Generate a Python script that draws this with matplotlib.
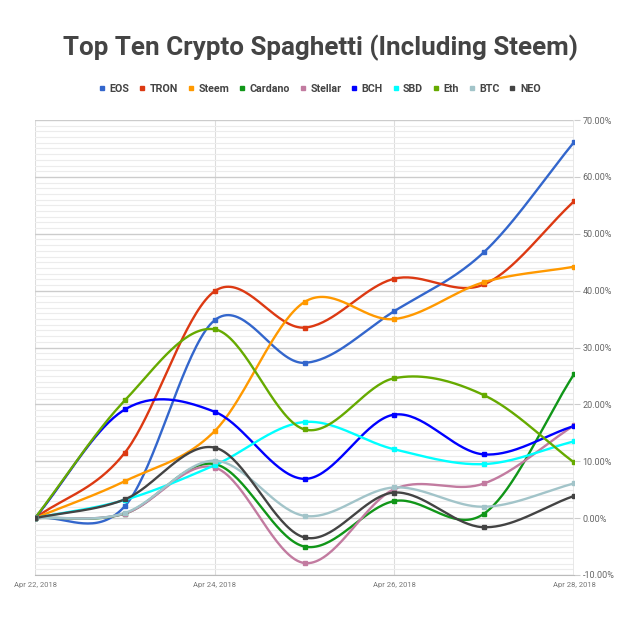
import numpy as np
import matplotlib
matplotlib.use('Agg')
import matplotlib.pyplot as plt
from matplotlib.ticker import MultipleLocator, FuncFormatter

plt.rcParams['font.family'] = ['Roboto', 'DejaVu Sans']

# dias (Apr 22 .. Apr 28, 2018)
days = [0, 1, 2, 3, 4, 5, 6]
day_labels = ['Apr 22, 2018', 'Apr 24, 2018', 'Apr 26, 2018', 'Apr 28, 2018']

# variacao em %
eos = [0, 2.1, 34.8, 27.3, 36.4, 46.8, 66.1]
tron = [0, 11.5, 39.9, 33.5, 42.1, 41.1, 55.7]
steem = [0, 6.5, 15.3, 38.0, 35.0, 41.5, 44.2]
cardano = [0, 0.8, 9.5, -5.0, 3.0, 0.8, 25.3]
stellar = [0, 0.8, 8.9, -7.9, 5.1, 6.1, 16.3]
bch = [0, 19.1, 18.7, 6.9, 18.2, 11.2, 16.2]
sbd = [0, 3.2, 9.3, 16.9, 12.1, 9.5, 13.5]
eth = [0, 20.7, 33.2, 15.6, 24.6, 21.6, 9.8]
btc = [0, 0.9, 10.1, 0.4, 5.4, 2.0, 6.1]
neo = [0, 3.3, 12.4, -3.4, 4.5, -1.6, 3.9]

names = ['EOS', 'TRON', 'Steem', 'Cardano', 'Stellar', 'BCH', 'SBD', 'Eth', 'BTC', 'NEO']
series = [eos, tron, steem, cardano, stellar, bch, sbd, eth, btc, neo]
colors = ['#3366cc', '#dc3912', '#ff9900', '#109618', '#c27ba0',
          '#0000ff', '#00ffff', '#66aa00', '#a2c4c9', '#434343']


def smooth(x, y, n=40):
    # curva suave tipo catmull-rom (hermite)
    x = np.asarray(x, float)
    y = np.asarray(y, float)
    m = np.zeros_like(y)
    m[1:-1] = (y[2:] - y[:-2]) / 2
    m[0] = y[1] - y[0]
    m[-1] = y[-1] - y[-2]
    xs, ys = [], []
    for i in range(len(x) - 1):
        t = np.linspace(0, 1, n)
        h00 = 2*t**3 - 3*t**2 + 1
        h10 = t**3 - 2*t**2 + t
        h01 = -2*t**3 + 3*t**2
        h11 = t**3 - t**2
        xs.append(x[i] + t*(x[i+1] - x[i]))
        ys.append(h00*y[i] + h10*m[i] + h01*y[i+1] + h11*m[i+1])
    return np.concatenate(xs), np.concatenate(ys)


fig = plt.figure(figsize=(6.4, 6.18), dpi=100)
ax = fig.add_axes([35/640, 43/618, 539/640, 455/618])

for s, c, nm in zip(series, colors, names):
    sx, sy = smooth(days, s)
    ax.plot(sx, sy, color=c, lw=1.7, zorder=3, solid_capstyle='round')
    ax.plot(days, s, 's', color=c, ms=3, zorder=4, label=nm)

ax.set_xlim(0, 6)
ax.set_ylim(-10, 70)
ax.yaxis.set_major_locator(MultipleLocator(10))
ax.yaxis.set_minor_locator(MultipleLocator(1))
ax.set_xticks([0, 2, 4, 6])
ax.set_xticklabels(day_labels)
ax.yaxis.tick_right()
ax.yaxis.set_major_formatter(FuncFormatter(lambda v, p: '%.2f%%' % v))
ax.tick_params(axis='y', which='major', length=4, color='#cccccc', labelsize=6.5,
               labelcolor='#666666', pad=2)
ax.tick_params(axis='y', which='minor', length=0)
ax.tick_params(axis='x', length=0, labelsize=5.5, labelcolor='#777777', pad=5)

ax.grid(True, which='major', axis='y', color='#cccccc', lw=1)
ax.grid(True, which='minor', axis='y', color='#ececec', lw=0.8)
ax.grid(True, which='major', axis='x', color='#dddddd', lw=0.8)
ax.set_axisbelow(True)
for sp in ['top', 'right', 'left']:
    ax.spines[sp].set_visible(False)
ax.spines['bottom'].set_color('#bbbbbb')
ax.axvline(6, color='#e6e6e6', lw=2, zorder=1)

fig.text(0.5, 1 - 48/618, 'Top Ten Crypto Spaghetti (Including Steem)', ha='center', va='center',
         fontsize=18.7, fontweight='bold', color='#444444')

fig.legend(loc='center', bbox_to_anchor=(0.5, 1 - 89/618), ncol=10, frameon=False,
           handlelength=0.5, handletextpad=0.45, columnspacing=0.95, markerscale=1.1,
           prop={'size': 7.7, 'weight': 'bold'}, labelcolor='#444444')

plt.savefig('out.png', dpi=100)
